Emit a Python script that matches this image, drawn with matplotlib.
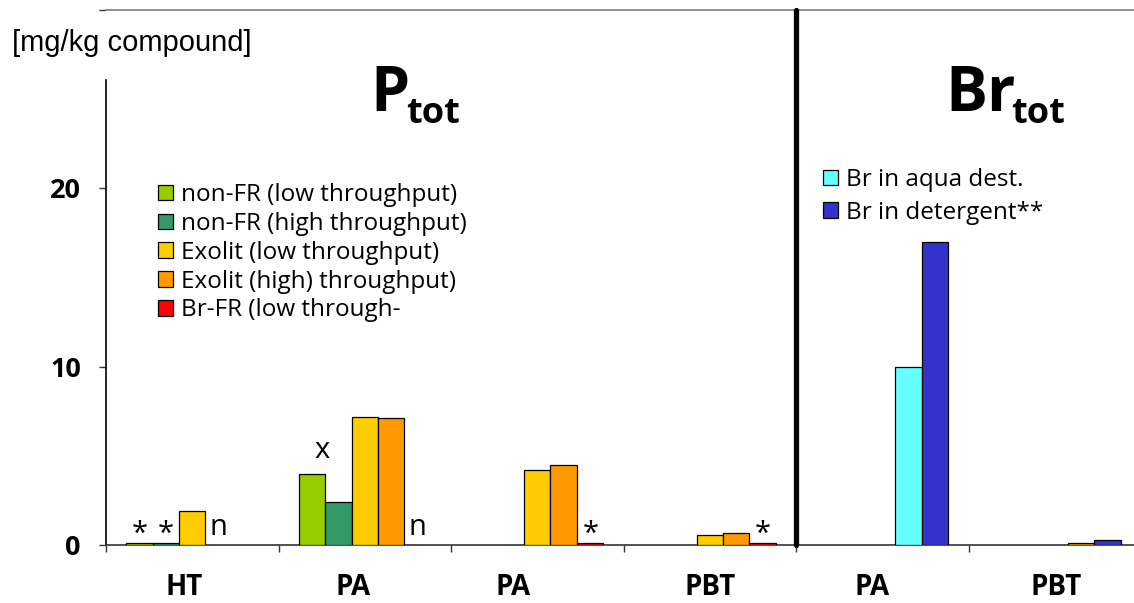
import numpy as np
import matplotlib
matplotlib.use('Agg')
import matplotlib.pyplot as plt

nan = np.nan

# categories along the x axis: P_tot block (first four), Br_tot block (last two)
categories = ['HT', 'PA', 'PA', 'PBT', 'PA', 'PBT']

# P_tot series [mg/kg compound]
non_fr_low = [0.1, 4.0, nan, nan, nan, nan]
non_fr_high = [0.1, 2.4, nan, nan, nan, nan]
exolit_low = [1.9, 7.2, 4.2, 0.55, nan, nan]
exolit_high = [nan, 7.1, 4.5, 0.65, nan, 0.1]
br_fr_low = [nan, nan, 0.1, 0.1, nan, nan]

# Br_tot series [mg/kg compound]
br_aqua = [nan, nan, nan, nan, 10.0, nan]
br_detergent = [nan, nan, nan, nan, 17.0, 0.3]

p_labels = ['non-FR (low throughput)', 'non-FR (high throughput)',
            'Exolit (low throughput)', 'Exolit (high) throughput)',
            'Br-FR (low through-']
br_labels = ['Br in aqua dest.', 'Br in detergent**']

# marks written above single bars: (category, slot, text, y)
notes = [(0, 0, '*', 0.15), (0, 1, '*', 0.15), (0, 3, 'n', 0.55),
         (1, 0, 'x', 4.9), (1, 4, 'n', 0.55),
         (2, 4, '*', 0.15), (3, 4, '*', 0.15)]

W, H = 1134, 603
fig = plt.figure(figsize=(W / 100, H / 100), dpi=100)
ax = fig.add_axes([106 / W, 1 - 545 / H, 1035 / W, 535 / H])

w = 0.1536
start = (1 - 5 * w) / 2
x = np.arange(len(categories))

p_vals = [non_fr_low, non_fr_high, exolit_low, exolit_high, br_fr_low]
p_cols = ['#99CC00', '#339966', '#FFCC00', '#FF9900', '#FF0000']
br_vals = [br_aqua, br_detergent]
br_cols = ['#66FFFF', '#3333CC']

p_bars = []
for j, (v, c, lab) in enumerate(zip(p_vals, p_cols, p_labels)):
    b = ax.bar(x + start + j * w, v, w, align='edge', color=c,
               edgecolor='black', linewidth=0.9, label=lab, zorder=3)
    p_bars.append(b)

br_bars = []
for j, (v, c, lab) in zip([3, 4], zip(br_vals, br_cols, br_labels)):
    b = ax.bar(x + start + j * w, v, w, align='edge', color=c,
               edgecolor='black', linewidth=0.9, label=lab, zorder=3)
    br_bars.append(b)

for cat, slot, txt, yv in notes:
    dx = 0.06 if txt == 'x' else 0.0
    ax.text(cat + start + (slot + 0.5) * w + dx, yv, txt, ha='center',
            va='baseline', fontsize=21, family='Open Sans', zorder=4)

# divider between the two blocks
ax.plot([4, 4], [0, 30], color='black', lw=3.8, solid_capstyle='round',
        clip_on=False, zorder=5)

ax.set_xlim(0, 6)
ax.set_ylim(0, 30)
ax.set_xticks(np.arange(7))
ax.set_xticklabels([])
ax.set_yticks([0, 10, 20, 30])
ax.set_yticklabels(['0', '10', '20', ''], fontsize=19.5, fontweight='bold',
                   family='Open Sans')
ax.tick_params(axis='both', direction='out', length=5, width=1, color='#333333')
ax.tick_params(axis='y', pad=13)

ax.spines['right'].set_visible(False)
ax.spines['top'].set_color('#888888')
ax.spines['top'].set_linewidth(1.3)
ax.spines['bottom'].set_color('#333333')
ax.spines['bottom'].set_linewidth(1.2)
ax.spines['left'].set_color('black')
ax.spines['left'].set_linewidth(1.2)
ax.spines['left'].set_bounds(0, 26.1)

label_shift = [-0.05, -0.07, -0.14, 0.0, -0.06, 0.01]
for i, (cat, dx) in enumerate(zip(categories, label_shift)):
    ax.text(i + 0.5 + dx, -2.4, cat, ha='center', va='center', fontsize=20,
            fontweight='bold', family='Open Sans')

fig.text(12 / W, 1 - 43 / H, '[mg/kg compound]', fontsize=21,
         family='Liberation Sans', va='center', ha='left')

# block titles
fig.text(370 / W, 1 - 111 / H, 'P', fontsize=45, fontweight='bold',
         family='Open Sans', va='baseline', ha='left')
fig.text(406 / W, 1 - 123 / H, 'tot', fontsize=26, fontweight='bold',
         family='Open Sans', va='baseline', ha='left')
fig.text(945 / W, 1 - 111 / H, 'Br', fontsize=45, fontweight='bold',
         family='Open Sans', va='baseline', ha='left')
fig.text(1011 / W, 1 - 123 / H, 'tot', fontsize=26, fontweight='bold',
         family='Open Sans', va='baseline', ha='left')

leg_kw = dict(frameon=False, loc='upper left', borderpad=0, borderaxespad=0,
              handlelength=0.6, handleheight=0.6, handletextpad=0.35,
              prop={'family': 'Open Sans', 'size': 17.5})
leg1 = ax.legend(handles=p_bars, bbox_to_anchor=(158 / W, 1 - 183 / H),
                 bbox_transform=fig.transFigure, labelspacing=0.2, **leg_kw)
ax.add_artist(leg1)
ax.legend(handles=br_bars, bbox_to_anchor=(823 / W, 1 - 168 / H),
          bbox_transform=fig.transFigure, labelspacing=0.35, **leg_kw)

fig.savefig('out.png', dpi=100)
